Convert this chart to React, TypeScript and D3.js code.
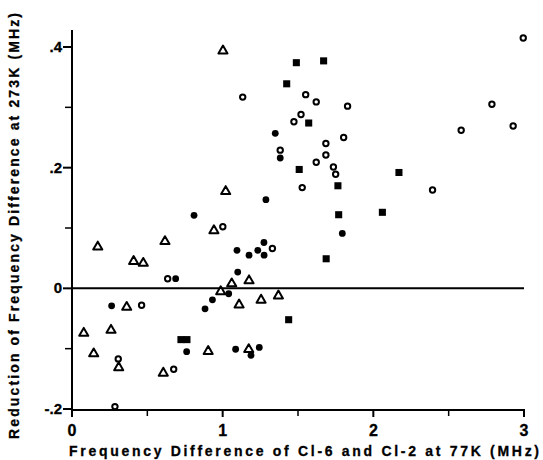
import React from 'react';
import * as d3 from 'd3';

// readings: [x (MHz at 77K), y (MHz reduction at 273K)]
const triangles: [number, number][] = [
  [1.002, 0.395], [1.02, 0.162], [0.942, 0.097], [0.171, 0.07], [0.617, 0.079],
  [0.409, 0.046], [0.473, 0.043], [1.175, 0.014], [1.06, 0.009], [0.987, -0.004],
  [1.109, -0.026], [1.255, -0.018], [1.37, -0.011], [1.173, -0.1], [0.904, -0.103],
  [0.363, -0.03], [0.078, -0.073], [0.259, -0.068], [0.144, -0.107], [0.31, -0.13],
  [0.606, -0.139],
];

const openCircles: [number, number][] = [
  [2.995, 0.415], [2.787, 0.305], [2.928, 0.269], [2.583, 0.262], [2.393, 0.163],
  [1.133, 0.317], [1.551, 0.321], [1.621, 0.309], [1.829, 0.302], [1.52, 0.288],
  [1.473, 0.276], [1.803, 0.25], [1.685, 0.24], [1.382, 0.229], [1.685, 0.221],
  [1.621, 0.209], [1.735, 0.201], [1.75, 0.189], [1.528, 0.167], [1.001, 0.102],
  [1.33, 0.066], [0.635, 0.016], [0.462, -0.028], [0.307, -0.117], [0.675, -0.134],
  [0.285, -0.196],
];

const filledCircles: [number, number][] = [
  [1.349, 0.257], [1.382, 0.216], [1.287, 0.147], [0.81, 0.121], [1.794, 0.091],
  [1.274, 0.076], [1.095, 0.063], [1.233, 0.063], [1.175, 0.055], [1.275, 0.055],
  [1.1, 0.027], [0.688, 0.016], [1.04, -0.009], [0.932, -0.019], [0.883, -0.034],
  [0.263, -0.029], [0.761, -0.105], [1.086, -0.101], [1.188, -0.111], [1.243, -0.098],
];

const squares: [number, number][] = [
  [1.489, 0.374], [1.67, 0.377], [1.425, 0.339], [1.571, 0.274], [1.508, 0.197],
  [1.765, 0.17], [2.17, 0.192], [1.77, 0.122], [2.06, 0.126], [1.687, 0.049],
  [1.438, -0.052], [0.723, -0.085], [0.763, -0.085],
];

const xMajor = [0, 1, 2, 3];
const xMinor = [0.5, 1.5, 2.5];
const yMajor = [-0.2, 0, 0.2, 0.4];
const yMinor = [-0.1, 0.1, 0.3];
const yLabels = ['-.2', '0', '.2', '.4'];

const xTitle = 'Frequency Difference of Cl-6 and Cl-2 at 77K (MHz)';
const yTitle = 'Reduction of Frequency Difference at 273K (MHz)';

export default function App() {
  const width = 543;
  const height = 460;
  const font = '"Liberation Sans", Arial, sans-serif';

  const x = d3.scaleLinear().domain([0, 3]).range([72, 524]);
  const y = d3.scaleLinear().domain([-0.2, 0.4]).range([409, 47]);

  const tri = d3.symbol().type(d3.symbolTriangle).size(36);
  const sq = d3.symbol().type(d3.symbolSquare).size(50);

  const axisY = x(0);
  const axisX = y(-0.2) + 1;

  return (
    <svg width={width} height={height} style={{ position: 'absolute', left: 0, top: 0, background: '#fff' }}>
      {/* axes */}
      <line x1={axisY} x2={axisY} y1={30} y2={axisX} stroke="#000" strokeWidth={2} />
      <line x1={axisY - 1} x2={x(3) + 1} y1={axisX} y2={axisX} stroke="#000" strokeWidth={2} />
      {/* zero line */}
      <line x1={axisY} x2={x(3)} y1={y(0)} y2={y(0)} stroke="#000" strokeWidth={2} />

      {yMajor.map((v, i) => (
        <g key={'ym' + i}>
          <line x1={axisY - 9} x2={axisY} y1={y(v)} y2={y(v)} stroke="#000" strokeWidth={2} />
          <text x={axisY - 10} y={y(v) + 5} textAnchor="end" fontFamily={font} fontWeight="bold" fontSize={15}
            stroke="#000" strokeWidth={0.3}>
            {yLabels[i]}
          </text>
        </g>
      ))}
      {yMinor.map((v, i) => (
        <line key={'yn' + i} x1={axisY - 7} x2={axisY} y1={y(v)} y2={y(v)} stroke="#000" strokeWidth={1.5} />
      ))}

      {xMajor.map((v, i) => (
        <g key={'xm' + i}>
          <line x1={x(v)} x2={x(v)} y1={axisX} y2={axisX + 7} stroke="#000" strokeWidth={2} />
          <text x={x(v)} y={axisX + 26} textAnchor="middle" fontFamily={font} fontWeight="bold" fontSize={16}
            stroke="#000" strokeWidth={0.3}>
            {v}
          </text>
        </g>
      ))}
      {xMinor.map((v, i) => (
        <line key={'xn' + i} x1={x(v)} x2={x(v)} y1={axisX} y2={axisX + 6} stroke="#000" strokeWidth={1.5} />
      ))}

      {/* titles */}
      <text x={304} y={456} textAnchor="middle" fontFamily={font} fontWeight="bold" fontSize={14}
        textLength={470} lengthAdjust="spacing" stroke="#000" strokeWidth={0.3}>
        {xTitle}
      </text>
      <text transform="translate(19,226) rotate(-90)" textAnchor="middle" fontFamily={font} fontWeight="bold"
        fontSize={14} textLength={426} lengthAdjust="spacing" stroke="#000" strokeWidth={0.3}>
        {yTitle}
      </text>

      {/* marks */}
      {triangles.map((d, i) => (
        <path key={'t' + i} d={tri() as string} transform={`translate(${x(d[0])},${y(d[1]) + 0.8})`}
          fill="#fff" stroke="#000" strokeWidth={2} strokeLinejoin="round" />
      ))}
      {openCircles.map((d, i) => (
        <circle key={'o' + i} cx={x(d[0])} cy={y(d[1])} r={2.7} fill="#fff" stroke="#000" strokeWidth={2} />
      ))}
      {filledCircles.map((d, i) => (
        <circle key={'f' + i} cx={x(d[0])} cy={y(d[1])} r={3.4} fill="#000" />
      ))}
      {squares.map((d, i) => (
        <path key={'s' + i} d={sq() as string} transform={`translate(${x(d[0])},${y(d[1])})`} fill="#000" />
      ))}
    </svg>
  );
}
